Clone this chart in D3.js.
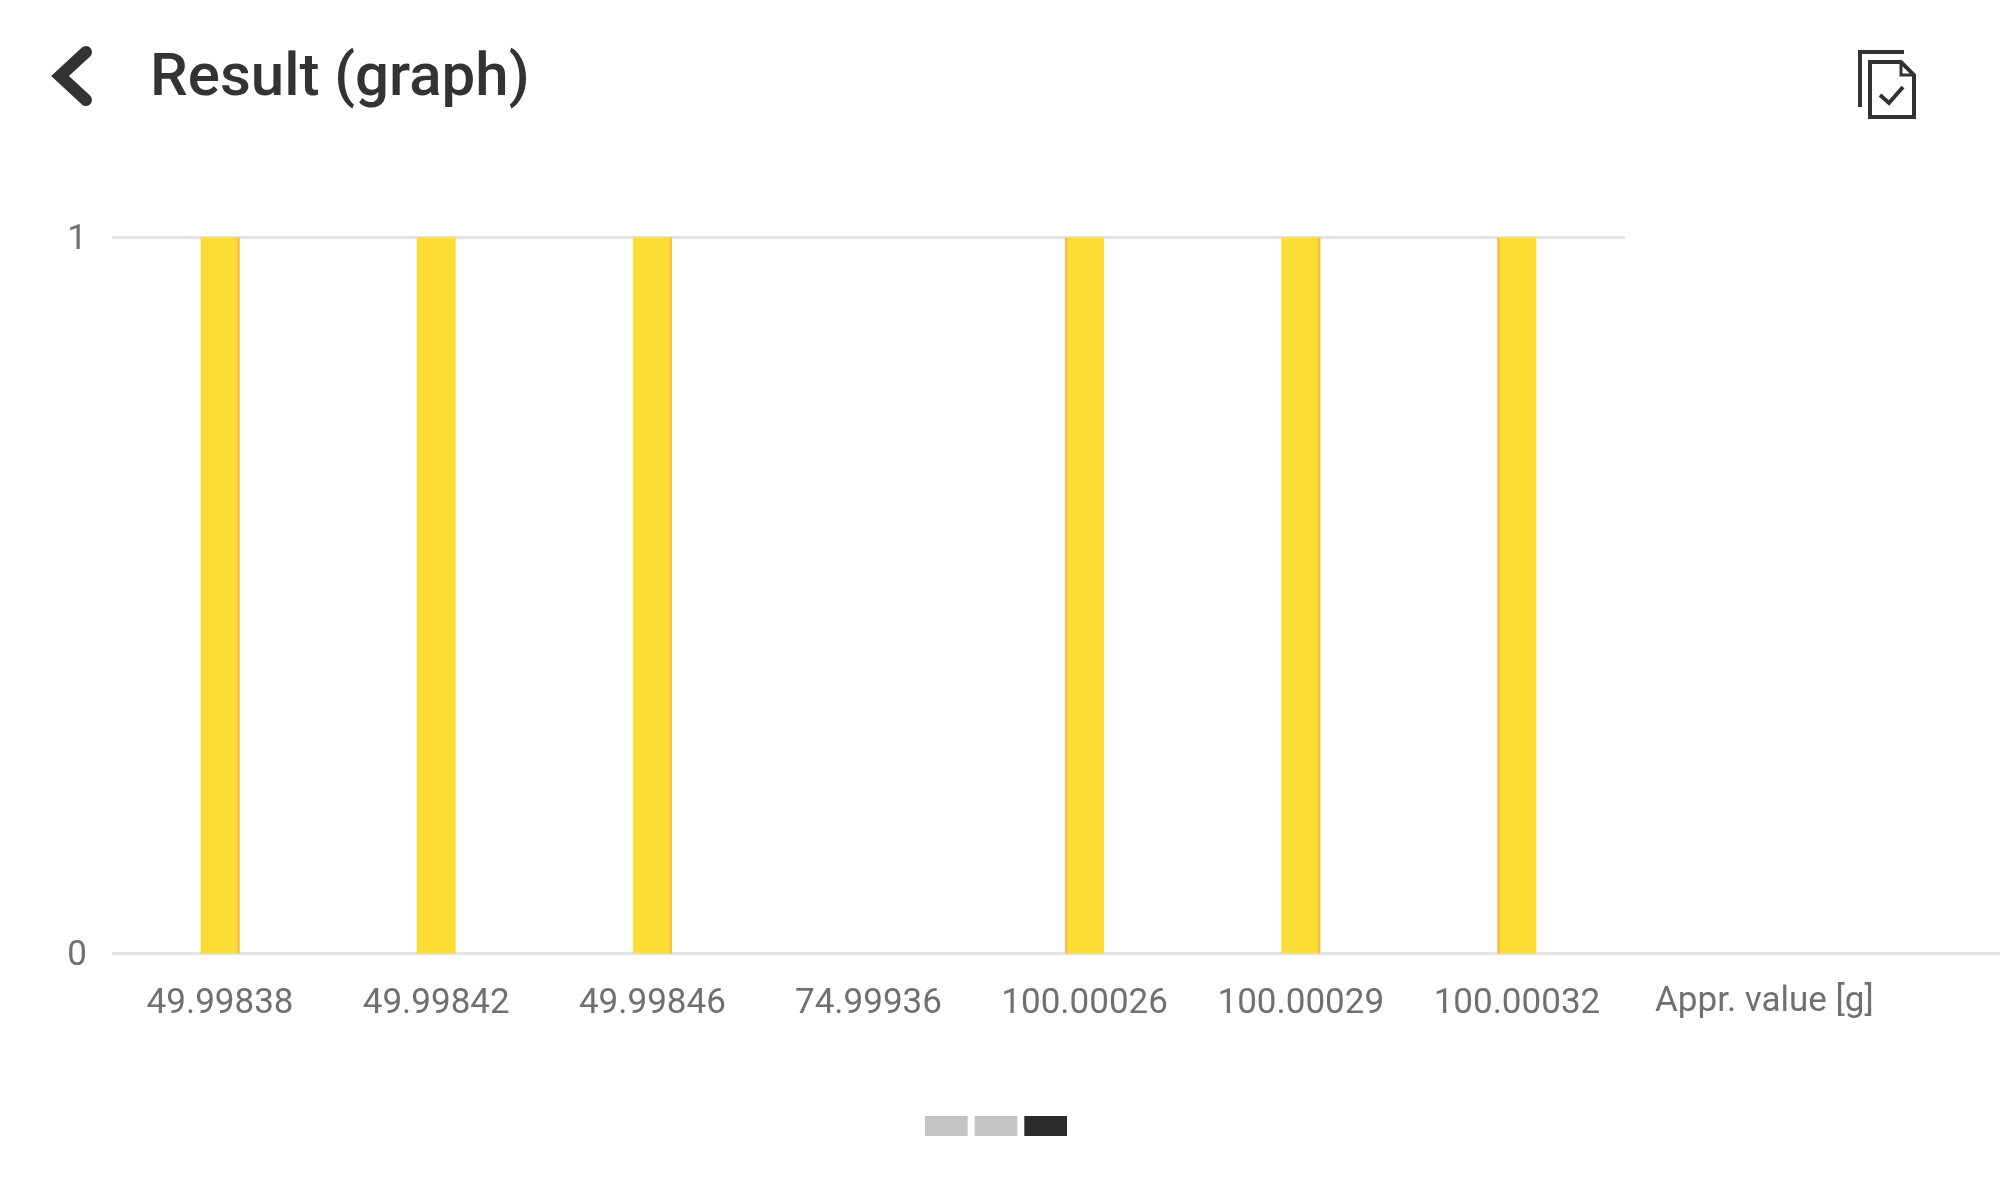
<!DOCTYPE html>
<html><head><meta charset="utf-8">
<script src="https://cdnjs.cloudflare.com/ajax/libs/d3/7.8.5/d3.min.js"></script>
<style>html,body{margin:0;padding:0;background:#fff}svg{display:block;font-family:Roboto,sans-serif;filter:blur(0.7px)}</style>
</head><body><svg id="c" width="2000" height="1201"></svg>
<script>
const categories = ["49.99838","49.99842","49.99846","74.99936","100.00026","100.00029","100.00032"];
const counts = [1,1,1,0,1,1,1];
const edgeSides = ["right",null,"right",null,"left","right","left"];
const yTicks = [0,1];
const titleText = "Result (graph)";
const axisLabel = "Appr. value [g]";
const pages = [0,1,2];
const activePage = 2;

const svg = d3.select("#c");
const x = d3.scaleBand().domain(categories).range([112,1625]).paddingInner(0.82).paddingOuter(0.41);
const y = d3.scaleLinear().domain([0,1]).range([953.5,237.5]);

// grid
svg.append("g").selectAll("line").data(yTicks).join("line")
  .attr("x1",112).attr("x2",d=>d===0?2000:1625)
  .attr("y1",d=>y(d)).attr("y2",d=>y(d))
  .attr("stroke","#e3e3e3").attr("stroke-width",3);

// bars
const bars = categories.map((c,i)=>({c,v:counts[i],e:edgeSides[i]})).filter(d=>d.v>0);
svg.append("g").selectAll("rect").data(bars).join("rect")
  .attr("x",d=>x(d.c)).attr("width",x.bandwidth())
  .attr("y",d=>y(d.v)).attr("height",d=>y(0)-y(d.v))
  .attr("fill","#fbdd35");
svg.append("g").selectAll("rect").data(bars.filter(d=>d.e)).join("rect")
  .attr("x",d=>d.e==="left"?x(d.c):x(d.c)+x.bandwidth()-2).attr("width",2)
  .attr("y",d=>y(d.v)).attr("height",d=>y(0)-y(d.v))
  .attr("fill","#fdb549");

// x labels
svg.append("g").selectAll("text").data(categories).join("text")
  .attr("x",d=>x(d)+x.bandwidth()/2).attr("y",1013)
  .attr("text-anchor","middle").attr("font-size",35).attr("fill","#707070").text(d=>d);
svg.append("text").attr("x",1655).attr("y",1011).attr("font-size",35).attr("fill","#707070").text(axisLabel);

// y labels
svg.append("g").selectAll("text").data(yTicks).join("text")
  .attr("x",87).attr("y",d=>y(d)+11).attr("text-anchor","end")
  .attr("font-size",35).attr("fill","#707070").text(d=>d);

// header
svg.append("text").attr("x",150).attr("y",95).attr("font-size",60).attr("font-weight",500).attr("fill","#333").text(titleText);
svg.append("path").attr("d","M86 52 L60 76 L86 100").attr("fill","none").attr("stroke","#333").attr("stroke-width",12).attr("stroke-linecap","round").attr("stroke-linejoin","miter");

// icon
const icon = svg.append("g").attr("fill","none").attr("stroke","#333").attr("stroke-width",4);
icon.append("path").attr("d","M1904 52 H1860 V107");
icon.append("path").attr("d","M1870 62 H1901 L1914 75 V117 H1870 Z");
icon.append("path").attr("d","M1901 62 V75 H1914").attr("stroke-width",3);
icon.append("path").attr("d","M1880 95 L1889 103 L1903 87");

// pagination
const pg = d3.scaleBand().domain(pages).range([925,1067]).paddingInner(0.14);
svg.append("g").selectAll("rect").data(pages).join("rect")
  .attr("x",d=>pg(d)).attr("width",pg.bandwidth()).attr("y",1116).attr("height",20)
  .attr("fill",d=>d===activePage?"#2b2b2b":"#c4c4c4");
</script></body></html>
